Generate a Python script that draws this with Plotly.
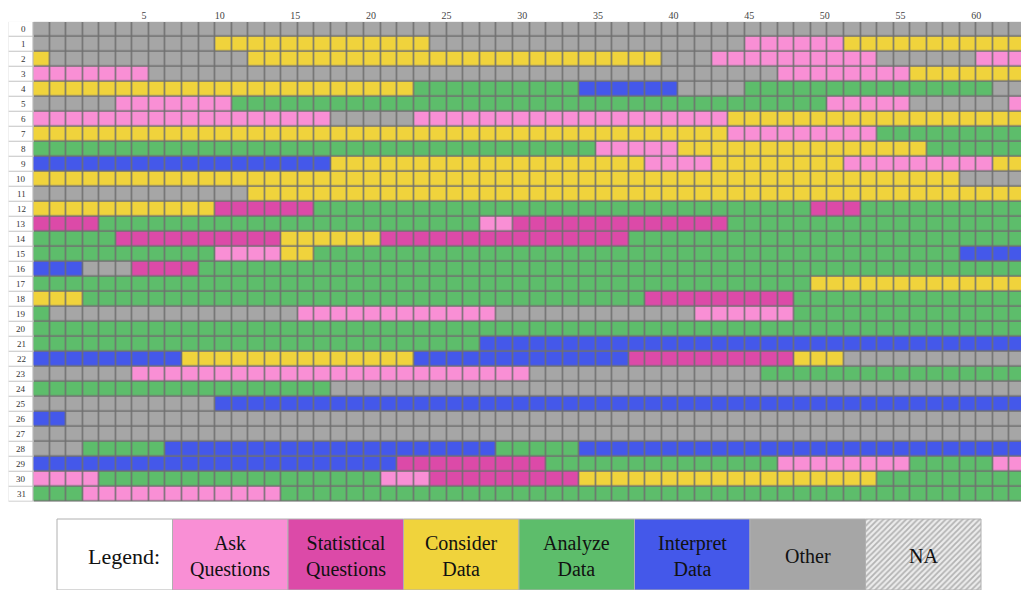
import plotly.graph_objects as go

# ---------------- data ----------------
categories = ["Ask Questions", "Statistical Questions", "Consider Data",
              "Analyze Data", "Interpret Data", "Other"]
codes = ["A", "S", "C", "Z", "I", "O"]
colors = ["#F98FD5", "#DC4AA8", "#F0D33C", "#5DBD6B", "#4458EA", "#A6A6A6"]

legend_labels = ["Ask<br>Questions", "Statistical<br>Questions", "Consider<br>Data",
                 "Analyze<br>Data", "Interpret<br>Data", "Other", "NA"]

row_labels = [str(i) for i in range(32)]
col_tick_labels = [5, 10, 15, 20, 25, 30, 35, 40, 45, 50, 55, 60]

# run-length encoded rows: code + run length
row_runs = [
    "O60",
    "O11 C13 O19 A6 C11",
    "C1 O12 C25 O3 A10 O6 A3",
    "A7 O38 A8 C7",
    "C23 Z10 I6 O4 Z15 O2",
    "O5 A7 Z36 A5 O6 A1",
    "A18 O5 A19 C18",
    "C42 A9 Z9",
    "Z34 A5 C15 Z6",
    "I18 C19 A4 C8 A9 C2",
    "C56 O4",
    "O13 C47",
    "C11 S6 Z30 S3 Z10",
    "S4 Z23 A2 S13 Z18",
    "Z5 S10 C6 S15 Z24",
    "Z11 A4 C2 Z39 I4",
    "I3 O3 S4 Z50",
    "Z47 C13",
    "C3 Z34 S9 Z14",
    "Z1 O15 A12 O12 A6 Z14",
    "Z60",
    "Z27 I33",
    "I9 C14 I13 S10 C3 O11",
    "O6 A24 O14 Z16",
    "Z18 O42",
    "O11 I49",
    "I2 O58",
    "O60",
    "O3 Z5 I20 Z5 I27",
    "I22 S9 Z14 A8 Z5 A2",
    "A4 Z17 A3 S9 C18 Z9",
    "Z3 A12 Z45",
]


def expand(runs):
    out = []
    for tok in runs.split():
        out += [codes.index(tok[0])] * int(tok[1:])
    return out


z = [expand(r) for r in row_runs]
n_rows = len(z)
n_cols = len(z[0])

# ---------------- layout constants ----------------
W, H = 1021, 590
GRID_X0, CELL_W = 33.3, 16.55
GRID_Y0, CELL_H = 21.7, 15.0
LAB_X0 = 8.3
LAB5_PX, LAB_STEP = 144.0, 15.13
LEG_X0, LEG_W, LEG_Y0, LEG_Y1 = 57.0, 115.5, 519.0, 590.0
SERIF = "Liberation Serif, Times New Roman, serif"

y_dom = [1 - (GRID_Y0 + n_rows * CELL_H) / H, 1 - GRID_Y0 / H]

# discrete colorscale
n = len(colors)
cs = []
for i, c in enumerate(colors):
    cs.append([i / n, c])
    cs.append([(i + 1) / n, c])

fig = go.Figure()

fig.add_trace(go.Heatmap(
    z=z, x=list(range(n_cols)), y=list(range(n_rows)),
    colorscale=cs, zmin=-0.5, zmax=n - 0.5, showscale=False,
    xgap=1.5, ygap=1.5, hoverinfo="skip", xaxis="x", yaxis="y"))

# row label column (white cells)
fig.add_trace(go.Heatmap(
    z=[[0] for _ in range(n_rows)], x=[0], y=list(range(n_rows)),
    colorscale=[[0, "white"], [1, "white"]], showscale=False,
    xgap=1, ygap=1, hoverinfo="skip", xaxis="x2", yaxis="y"))

# invisible helper trace for header axis
fig.add_trace(go.Scatter(
    x=col_tick_labels, y=[0] * len(col_tick_labels), mode="markers",
    marker=dict(opacity=0), hoverinfo="skip", showlegend=False,
    xaxis="x3", yaxis="y"))

# NA hatched legend cell
na_x0 = LEG_X0 + 7 * LEG_W
fig.add_trace(go.Scatter(
    x=[na_x0, na_x0 + LEG_W, na_x0 + LEG_W, na_x0, na_x0],
    y=[LEG_Y0, LEG_Y0, LEG_Y1, LEG_Y1, LEG_Y0],
    mode="lines", fill="toself",
    fillpattern=dict(shape="/", fgcolor="#7a7a7a", bgcolor="#ececec",
                     size=4, solidity=0.45),
    line=dict(color="#b0b0b0", width=1), hoverinfo="skip",
    showlegend=False, xaxis="x4", yaxis="y4"))

shapes = [
    dict(type="rect", xref="x", yref="y", layer="below",
         x0=-0.5, x1=n_cols - 0.5, y0=-0.5, y1=n_rows - 0.5,
         fillcolor="#707070", line=dict(width=0)),
    dict(type="rect", xref="x2", yref="y", layer="below",
         x0=-0.5, x1=0.5, y0=-0.5, y1=n_rows - 0.5,
         fillcolor="#c4c4c4", line=dict(width=0)),
]

# legend cells
leg_fills = ["white"] + colors
for i, fc in enumerate(leg_fills):
    shapes.append(dict(type="rect", xref="x4", yref="y4", layer="above",
                       x0=LEG_X0 + i * LEG_W, x1=LEG_X0 + (i + 1) * LEG_W,
                       y0=LEG_Y0, y1=LEG_Y1, fillcolor=fc,
                       line=dict(color="#b0b0b0", width=1)))

annotations = []
for r, lab in enumerate(row_labels):
    annotations.append(dict(x=0.28, y=r, xref="x2", yref="y", text=lab,
                            showarrow=False, xanchor="right", yanchor="middle",
                            font=dict(family=SERIF, size=9, color="#333333")))

annotations.append(dict(x=LEG_X0 + 0.58 * LEG_W, y=(LEG_Y0 + LEG_Y1) / 2 + 2,
                        xref="x4", yref="y4", text="Legend:", showarrow=False,
                        font=dict(family=SERIF, size=22, color="#111111")))
for i, lab in enumerate(legend_labels):
    annotations.append(dict(x=LEG_X0 + (i + 1.5) * LEG_W,
                            y=(LEG_Y0 + LEG_Y1) / 2 + 1,
                            xref="x4", yref="y4", text=lab, showarrow=False,
                            font=dict(family=SERIF, size=20, color="#111111")))

hidden = dict(showgrid=False, zeroline=False, showticklabels=False,
              ticks="", showline=False)

fig.update_layout(
    width=W, height=H, margin=dict(l=0, r=0, t=0, b=0),
    paper_bgcolor="white", plot_bgcolor="rgba(0,0,0,0)",
    showlegend=False,
    xaxis=dict(domain=[GRID_X0 / W, 1], range=[-0.5, -0.5 + (W - GRID_X0) / CELL_W],
               anchor="y", **hidden),
    yaxis=dict(domain=y_dom, range=[n_rows - 0.5, -0.5], anchor="x", **hidden),
    xaxis2=dict(domain=[LAB_X0 / W, GRID_X0 / W], range=[-0.5, 0.5],
                anchor="y", **hidden),
    xaxis3=dict(overlaying="x", side="top", anchor="y",
                range=[5 - (LAB5_PX - GRID_X0) / LAB_STEP, 5 + (W - LAB5_PX) / LAB_STEP],
                tickvals=col_tick_labels, ticktext=[str(v) for v in col_tick_labels],
                showgrid=False, zeroline=False, showline=False, ticks="",
                tickfont=dict(family=SERIF, size=10, color="#444444")),
    xaxis4=dict(domain=[0, 1], range=[0, W], anchor="y4", visible=False),
    yaxis4=dict(domain=[0, 1], range=[H, 0], anchor="x4", visible=False),
    shapes=shapes, annotations=annotations,
)

fig.write_html("out.html")
